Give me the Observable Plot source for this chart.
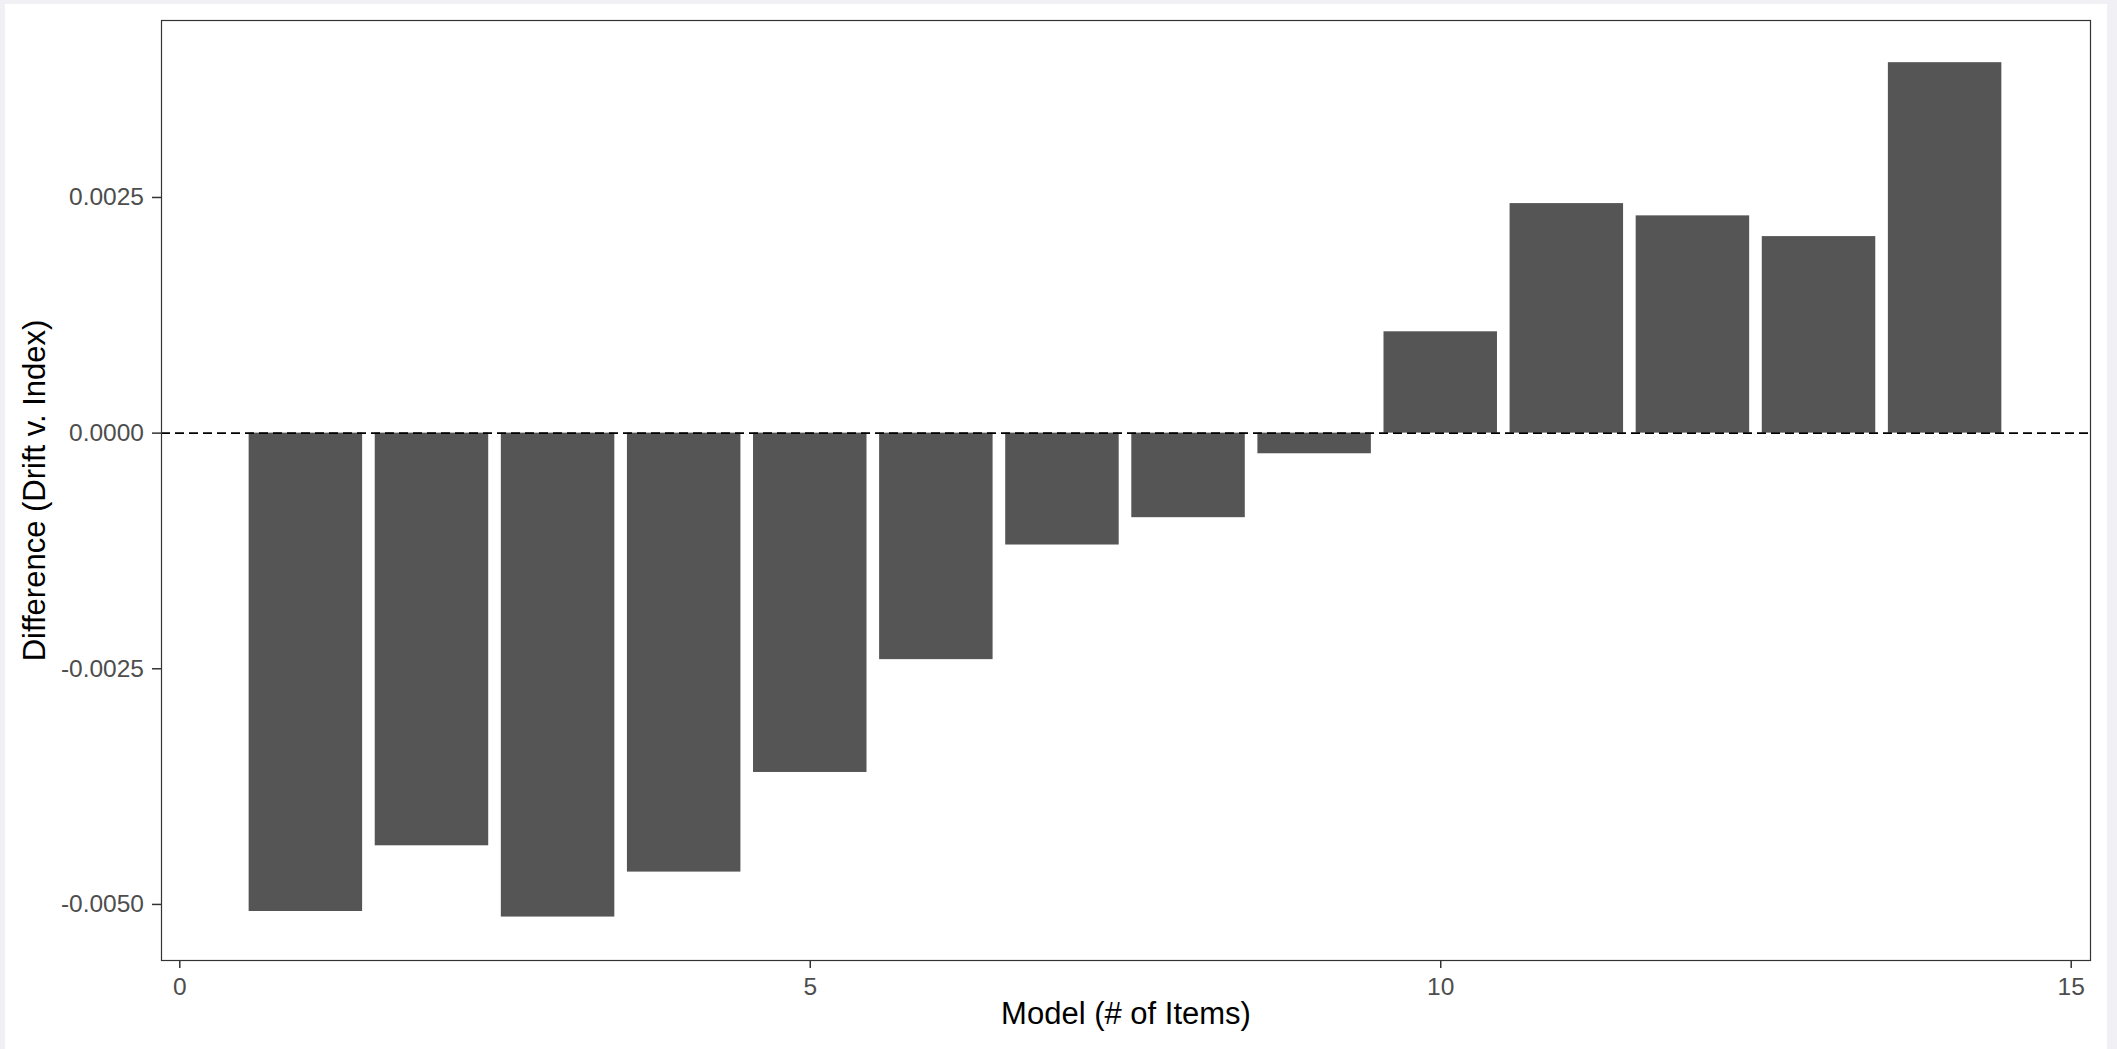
<!DOCTYPE html>
<html><head><meta charset="utf-8">
<script src="https://cdn.jsdelivr.net/npm/d3@7"></script>
<script src="https://cdn.jsdelivr.net/npm/@observablehq/plot@0.6"></script>
<style>
html,body{margin:0;padding:0;background:#f0f0f5;width:2117px;height:1049px;overflow:hidden;}
#wrap{position:absolute;left:5px;top:4px;width:2102px;height:1045px;background:#fff;}
</style></head><body><div id="wrap"></div>
<script>
const models = [1, 2, 3, 4, 5, 6, 7, 8, 9, 10, 11, 12, 13, 14];
const differences = [-0.005075, -0.004378, -0.005134, -0.004657, -0.00360, -0.002403, -0.001187,
  -0.000897, -0.000219, 0.001075, 0.002435, 0.002305, 0.002085, 0.00393];
const xTicks = [0, 5, 10, 15];
const yTicks = [-0.005, -0.0025, 0, 0.0025];
const xTitle = "Model (# of Items)";
const yTitle = "Difference (Drift v. Index)";

const data = models.map((m, i) => ({model: m, diff: differences[i]}));
const half = 0.45;

const chart = Plot.plot({
  width: 2102, height: 1045,
  marginLeft: 156, marginRight: 17, marginTop: 16, marginBottom: 89,
  style: {fontFamily: "'Liberation Sans', Arial, sans-serif", background: "white", overflow: "visible"},
  x: {domain: [-0.145, 15.153]},
  y: {domain: [-0.0055948, 0.0043775]},
  marks: [
    Plot.rectY(data, {x1: d => d.model - half, x2: d => d.model + half, y1: 0, y2: "diff", fill: "#555555"}),
    Plot.ruleY([0], {stroke: "black", strokeWidth: 1.6, strokeDasharray: "9,5"}),
    Plot.frame({stroke: "#333333", strokeWidth: 1.2}),
    Plot.axisX({ticks: xTicks, tickFormat: d => String(d), tickSize: 8, tickPadding: 9, fontSize: 24.5,
      stroke: "#333333", fill: "#4d4d4d", strokeWidth: 1.5, label: null}),
    Plot.axisY({ticks: yTicks, tickFormat: d => d.toFixed(4), tickSize: 9, tickPadding: 8.5, fontSize: 24.5,
      stroke: "#333333", fill: "#4d4d4d", strokeWidth: 1.5, label: null}),
    Plot.text([xTitle], {frameAnchor: "bottom", dy: 63.4, fontSize: 31, fill: "black", textAnchor: "middle"}),
    Plot.text([yTitle], {frameAnchor: "left", dx: -126, rotate: -90, fontSize: 31, fill: "black", textAnchor: "middle"})
  ]
});
document.getElementById("wrap").appendChild(chart);
</script></body></html>
